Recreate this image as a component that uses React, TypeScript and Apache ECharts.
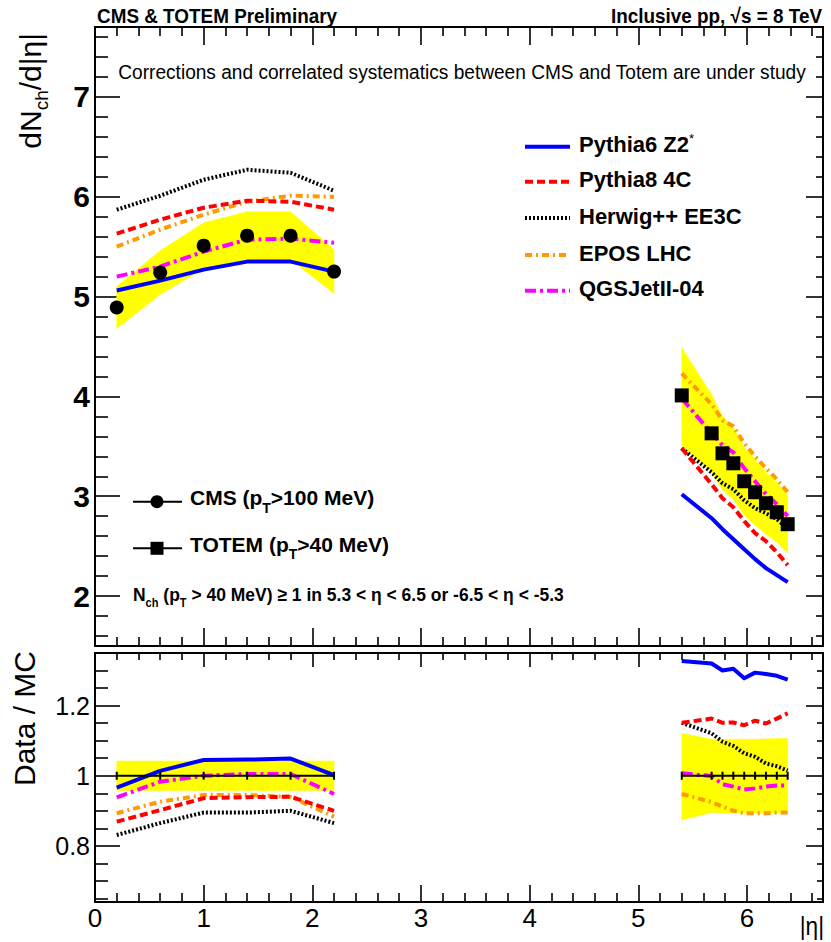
import React, { useEffect, useRef } from "react";
import * as echarts from "echarts";

// ---------------- data ----------------
const cmsEta = [0.2, 0.6, 1.0, 1.4, 1.8, 2.2];
const cmsVal = [4.89, 5.24, 5.51, 5.61, 5.61, 5.25];
const cmsSystLo = [4.68, 5.02, 5.28, 5.37, 5.37, 5.03];
const cmsSystHi = [5.10, 5.46, 5.74, 5.85, 5.85, 5.47];
const cmsRatioLo = [0.958, 0.958, 0.958, 0.958, 0.958, 0.958];
const cmsRatioHi = [1.042, 1.042, 1.042, 1.042, 1.042, 1.042];
const cmsRatioData = [1, 1, 1, 1, 1, 1];

const totemEta = [5.4, 5.675, 5.775, 5.875, 5.975, 6.075, 6.175, 6.275, 6.375];
const totemVal = [4.01, 3.63, 3.43, 3.33, 3.15, 3.04, 2.93, 2.84, 2.72];
const totemSystHi = [4.49, 4.02, 3.80, 3.69, 3.49, 3.37, 3.24, 3.14, 3.01];
const totemSystLo = [3.51, 3.24, 3.06, 2.97, 2.81, 2.71, 2.62, 2.54, 2.43];
const totemRatioHi = [1.121, 1.104, 1.104, 1.104, 1.104, 1.104, 1.105, 1.106, 1.106];
const totemRatioLo = [0.874, 0.895, 0.894, 0.894, 0.894, 0.894, 0.894, 0.894, 0.894];
const totemRatioData = [1, 1, 1, 1, 1, 1, 1, 1, 1];

// models, CMS region (top panel)
const pythia6Cms = [5.06, 5.16, 5.27, 5.35, 5.35, 5.25];
const pythia8Cms = [5.63, 5.77, 5.89, 5.96, 5.95, 5.87];
const herwigCms = [5.87, 6.01, 6.17, 6.27, 6.24, 6.06];
const eposCms = [5.50, 5.67, 5.82, 5.95, 6.01, 6.00];
const qgsjetCms = [5.20, 5.30, 5.45, 5.57, 5.58, 5.54];
// models, TOTEM region (top panel)
const pythia6Totem = [3.02, 2.78, 2.67, 2.57, 2.47, 2.37, 2.28, 2.21, 2.14];
const pythia8Totem = [3.48, 3.12, 2.98, 2.89, 2.75, 2.63, 2.55, 2.44, 2.31];
const herwigTotem = [3.48, 3.24, 3.13, 3.07, 2.96, 2.88, 2.83, 2.77, 2.68];
const eposTotem = [4.23, 3.92, 3.76, 3.70, 3.53, 3.40, 3.28, 3.17, 3.04];
const qgsjetTotem = [3.98, 3.63, 3.51, 3.44, 3.28, 3.15, 3.02, 2.92, 2.80];
// Data / MC, CMS region
const pythia6CmsRatio = [0.966, 1.014, 1.045, 1.046, 1.049, 1.002];
const pythia8CmsRatio = [0.869, 0.902, 0.936, 0.939, 0.940, 0.900];
const herwigCmsRatio = [0.831, 0.865, 0.895, 0.895, 0.900, 0.865];
const eposCmsRatio = [0.893, 0.926, 0.945, 0.945, 0.940, 0.883];
const qgsjetCmsRatio = [0.938, 0.983, 1.000, 1.005, 1.005, 0.948];
// Data / MC, TOTEM region
const pythia6TotemRatio = [1.327, 1.320, 1.300, 1.305, 1.278, 1.294, 1.290, 1.285, 1.274];
const pythia8TotemRatio = [1.151, 1.163, 1.151, 1.152, 1.144, 1.157, 1.149, 1.163, 1.178];
const herwigTotemRatio = [1.151, 1.121, 1.097, 1.085, 1.064, 1.054, 1.035, 1.027, 1.015];
const eposTotemRatio = [0.948, 0.925, 0.912, 0.900, 0.893, 0.893, 0.893, 0.895, 0.895];
const qgsjetTotemRatio = [1.007, 0.999, 0.976, 0.969, 0.961, 0.964, 0.969, 0.972, 0.972];

const modelNames = ["Pythia6 Z2*", "Pythia8 4C", "Herwig++ EE3C", "EPOS LHC", "QGSJetII-04"];

// axes / ticks
const X_MIN = 0;
const X_MAX = 6.7;
const TOP_MIN = 1.5;
const TOP_MAX = 7.7;
const RAT_MIN = 0.64;
const RAT_MAX = 1.35;
const xMajorTicks = [0, 1, 2, 3, 4, 5, 6];
const xLabels = [0, 1, 2, 3, 4, 5, 6];
const topMajorTicks = [2, 3, 4, 5, 6, 7];
const topLabels = [2, 3, 4, 5, 6, 7];
const ratioMajorTicks = [0.8, 1.0, 1.2];
const ratioLabels = [0.8, 1.0, 1.2];

function minorTicks(a: number, b: number, step: number, majors: number[]) {
  const out: number[] = [];
  for (let i = 0; a + i * step <= b + 1e-9; i++) {
    const v = Math.round((a + i * step) * 1000) / 1000;
    if (!majors.some((m) => Math.abs(m - v) < 1e-6)) out.push(v);
  }
  return out;
}
const xMinorTicks = minorTicks(0.2, 6.6, 0.2, xMajorTicks);
const topMinorTicks = minorTicks(1.6, 7.6, 0.2, topMajorTicks);
const ratioMinorTicks = minorTicks(0.65, 1.3, 0.05, ratioMajorTicks);

// ---------------- styles ----------------
const YELLOW = "#ffff00";
const SANS = '"Liberation Sans", Arial, Helvetica, sans-serif';
const modelStyles = [
  { color: "#0000ff", dash: "solid" as any },
  { color: "#ff0000", dash: [8, 4] },
  { color: "#000000", dash: [2, 2] },
  { color: "#ff9a00", dash: [7, 4, 2, 4] },
  { color: "#ff00ff", dash: [11, 4, 3, 4] },
];

function mkX(gridIndex: number, position: string, ticks: number[], len: number, labels?: number[]) {
  return {
    type: "value",
    gridIndex,
    position,
    min: X_MIN,
    max: X_MAX,
    axisLine: { show: true, onZero: false, lineStyle: { color: "#000", width: 2 } },
    axisTick: { show: true, inside: true, length: len, customValues: ticks, lineStyle: { color: "#000", width: 1.6 } },
    axisLabel: labels
      ? {
          show: true,
          customValues: labels,
          margin: 3,
          color: "#000",
          fontFamily: SANS,
          fontSize: 26,
          formatter: (v: number) => String(v),
        }
      : { show: false },
    splitLine: { show: false },
  };
}

function mkY(
  gridIndex: number,
  position: string,
  min: number,
  max: number,
  ticks: number[],
  len: number,
  labels?: number[],
  labelStyle?: any
) {
  return {
    type: "value",
    gridIndex,
    position,
    min,
    max,
    axisLine: { show: true, onZero: false, lineStyle: { color: "#000", width: 2 } },
    axisTick: { show: true, inside: true, length: len, customValues: ticks, lineStyle: { color: "#000", width: 1.6 } },
    axisLabel: labels
      ? Object.assign(
          { show: true, customValues: labels, margin: 5, color: "#000", formatter: (v: number) => String(v) },
          labelStyle
        )
      : { show: false },
    splitLine: { show: false },
  };
}

function band(xs: number[], lo: number[], hi: number[], xi: number, yi: number) {
  return {
    type: "custom",
    xAxisIndex: xi,
    yAxisIndex: yi,
    z: 1,
    silent: true,
    clip: true,
    data: xs.map((x, i) => [x, lo[i], hi[i]]),
    encode: { x: 0, y: [1, 2] },
    renderItem: (params: any, api: any) => {
      if (params.dataIndex !== 0) return { type: "group", children: [] };
      const pts: number[][] = [];
      for (let i = 0; i < xs.length; i++) pts.push(api.coord([xs[i], hi[i]]));
      for (let i = xs.length - 1; i >= 0; i--) pts.push(api.coord([xs[i], lo[i]]));
      return { type: "polygon", shape: { points: pts }, style: { fill: YELLOW, stroke: YELLOW, lineWidth: 0.5 } };
    },
  };
}

function modelLine(xs: number[], ys: number[], m: number, xi: number, yi: number) {
  const st = modelStyles[m];
  return {
    type: "line",
    name: modelNames[m],
    xAxisIndex: xi,
    yAxisIndex: yi,
    z: 3 + (4 - m) * 0.01,
    symbol: "none",
    showSymbol: false,
    silent: true,
    data: xs.map((x, i) => [x, ys[i]]),
    lineStyle: { color: st.color, width: 4, type: st.dash, cap: "butt", join: "round" },
  };
}

// narrow-looking text: Liberation Sans compressed horizontally
function narrowText(
  x: number,
  y: number,
  text: string,
  size: number,
  weight: string,
  align: string,
  scale: number,
  extra?: any
) {
  return {
    type: "text",
    x,
    y,
    scaleX: scale,
    z: 10,
    style: Object.assign(
      {
        text,
        fontFamily: SANS,
        fontWeight: weight,
        fontSize: size,
        fill: "#000",
        align,
        verticalAlign: "middle",
      },
      extra || {}
    ),
  };
}

function buildOption() {
  const topModels = [
    [pythia6Cms, pythia6Totem],
    [pythia8Cms, pythia8Totem],
    [herwigCms, herwigTotem],
    [eposCms, eposTotem],
    [qgsjetCms, qgsjetTotem],
  ];
  const ratioModels = [
    [pythia6CmsRatio, pythia6TotemRatio],
    [pythia8CmsRatio, pythia8TotemRatio],
    [herwigCmsRatio, herwigTotemRatio],
    [eposCmsRatio, eposTotemRatio],
    [qgsjetCmsRatio, qgsjetTotemRatio],
  ];

  const series: any[] = [
    band(cmsEta, cmsSystLo, cmsSystHi, 0, 0),
    band(totemEta, totemSystLo, totemSystHi, 0, 0),
    band(cmsEta, cmsRatioLo, cmsRatioHi, 4, 4),
    band(totemEta, totemRatioLo, totemRatioHi, 4, 4),
  ];
  for (let m = 4; m >= 0; m--) {
    series.push(modelLine(cmsEta, topModels[m][0], m, 0, 0));
    series.push(modelLine(totemEta, topModels[m][1], m, 0, 0));
    series.push(modelLine(cmsEta, ratioModels[m][0], m, 4, 4));
    series.push(modelLine(totemEta, ratioModels[m][1], m, 4, 4));
  }
  // data / data ratio line
  [
    [cmsEta, cmsRatioData],
    [totemEta, totemRatioData],
  ].forEach(([xs, ys]) => {
    series.push({
      type: "line",
      xAxisIndex: 4,
      yAxisIndex: 4,
      z: 5,
      silent: true,
      symbol: "rect",
      symbolSize: [2, 8],
      showSymbol: true,
      itemStyle: { color: "#000", opacity: 1 },
      lineStyle: { color: "#000", width: 2 },
      data: xs.map((x: number, i: number) => [x, ys[i]]),
    });
  });
  series.push({
    type: "scatter",
    name: "CMS",
    xAxisIndex: 0,
    yAxisIndex: 0,
    z: 6,
    symbol: "circle",
    symbolSize: 14,
    itemStyle: { color: "#000", opacity: 1 },
    data: cmsEta.map((x, i) => [x, cmsVal[i]]),
  });
  series.push({
    type: "scatter",
    name: "TOTEM",
    xAxisIndex: 0,
    yAxisIndex: 0,
    z: 6,
    symbol: "rect",
    symbolSize: 14,
    itemStyle: { color: "#000", opacity: 1 },
    data: totemEta.map((x, i) => [x, totemVal[i]]),
  });

  const topLabelStyle = { fontFamily: SANS, fontSize: 30, fontWeight: "bold" };
  const ratLabelStyle = { fontFamily: SANS, fontSize: 25 };

  const xAxis = [
    mkX(0, "bottom", xMajorTicks, 18),
    mkX(0, "bottom", xMinorTicks, 9),
    mkX(0, "top", xMajorTicks, 18),
    mkX(0, "top", xMinorTicks, 9),
    mkX(1, "bottom", xMajorTicks, 17, xLabels),
    mkX(1, "bottom", xMinorTicks, 9),
    mkX(1, "top", xMajorTicks, 14),
    mkX(1, "top", xMinorTicks, 7),
  ];
  const yAxis = [
    mkY(0, "left", TOP_MIN, TOP_MAX, topMajorTicks, 25, topLabels, topLabelStyle),
    mkY(0, "left", TOP_MIN, TOP_MAX, topMinorTicks, 13),
    mkY(0, "right", TOP_MIN, TOP_MAX, topMajorTicks, 17),
    mkY(0, "right", TOP_MIN, TOP_MAX, topMinorTicks, 7),
    mkY(1, "left", RAT_MIN, RAT_MAX, ratioMajorTicks, 25, ratioLabels, ratLabelStyle),
    mkY(1, "left", RAT_MIN, RAT_MAX, ratioMinorTicks, 13),
    mkY(1, "right", RAT_MIN, RAT_MAX, ratioMajorTicks, 17),
    mkY(1, "right", RAT_MIN, RAT_MAX, ratioMinorTicks, 6),
  ];

  // legend graphics
  const legendYs = [146.7, 181.7, 218, 255, 290.7];
  const graphic: any[] = [];
  modelNames.forEach((name, m) => {
    const st = modelStyles[m];
    graphic.push({
      type: "line",
      shape: { x1: 525, y1: legendYs[m], x2: 570, y2: legendYs[m] },
      style: { stroke: st.color, lineWidth: 4, lineDash: st.dash === "solid" ? null : st.dash },
      z: 10,
    });
    const txt = m === 0 ? "Pythia6 Z2{sup|*}" : name;
    graphic.push({
      type: "text",
      x: 579,
      y: legendYs[m] - 2,
      z: 10,
      style: {
        text: txt,
        fontFamily: SANS,
        fontWeight: "bold",
        fontSize: 22,
        fill: "#000",
        align: "left",
        verticalAlign: "middle",
        lineHeight: 26,
        rich: { sup: { fontSize: 13, fontWeight: "normal", fontFamily: SANS, verticalAlign: "top", lineHeight: 13, fill: "#000" } },
      },
    });
  });

  // data legend
  const dl = [
    { y: 501.7, text: "CMS (p{s|T}>100 MeV)", sym: "circle" },
    { y: 548.3, text: "TOTEM (p{s|T}>40 MeV)", sym: "rect" },
  ];
  dl.forEach((d) => {
    graphic.push({ type: "line", shape: { x1: 133, y1: d.y, x2: 182, y2: d.y }, style: { stroke: "#000", lineWidth: 2 }, z: 10 });
    if (d.sym === "circle") graphic.push({ type: "circle", shape: { cx: 157, cy: d.y, r: 6.5 }, style: { fill: "#000" }, z: 10 });
    else graphic.push({ type: "rect", shape: { x: 150.5, y: d.y - 6.5, width: 13, height: 13 }, style: { fill: "#000" }, z: 10 });
    graphic.push({
      type: "text",
      x: 190,
      y: d.y - 4,
      z: 10,
      style: {
        text: d.text,
        fontFamily: SANS,
        fontWeight: "bold",
        fontSize: 21,
        fill: "#000",
        align: "left",
        verticalAlign: "middle",
        lineHeight: 34,
        rich: { s: { fontSize: 14, fontFamily: SANS, fontWeight: "bold", verticalAlign: "bottom", lineHeight: 14, fill: "#000" } },
      },
    });
  });

  graphic.push(
    narrowText(133, 594, "N{s|ch} (p{s|T} > 40 MeV) ≥ 1 in 5.3 < η < 6.5 or -6.5 < η < -5.3", 19, "bold", "left", 0.92, {
      lineHeight: 30,
      rich: { s: { fontSize: 12, fontFamily: SANS, fontWeight: "bold", verticalAlign: "bottom", lineHeight: 12, fill: "#000" } },
    }),
    narrowText(97, 16, "CMS & TOTEM Preliminary", 21, "bold", "left", 0.9),
    narrowText(822, 16, "Inclusive pp, √s = 8 TeV", 21, "bold", "right", 0.9),
    narrowText(462, 72, "Corrections and correlated systematics between CMS and Totem are under study", 21, "normal", "center", 0.91),
    narrowText(824, 926, "|η|", 26, "normal", "right", 0.87),
    {
      type: "text",
      x: 30,
      y: 33,
      rotation: Math.PI / 2,
      z: 10,
      style: {
        text: "dN{s|ch}/d|η|",
        fontFamily: SANS,
        fontSize: 30,
        fill: "#000",
        align: "right",
        verticalAlign: "middle",
        lineHeight: 42,
        rich: { s: { fontSize: 19, fontFamily: SANS, verticalAlign: "bottom", lineHeight: 19, fill: "#000" } },
      },
    },
    {
      type: "text",
      x: 24,
      y: 651,
      rotation: Math.PI / 2,
      z: 10,
      style: {
        text: "Data / MC",
        fontFamily: SANS,
        fontSize: 30,
        fill: "#000",
        align: "right",
        verticalAlign: "middle",
      },
    }
  );

  return {
    animation: false,
    backgroundColor: "#ffffff",
    grid: [
      { left: 95, top: 27, width: 728, height: 619, containLabel: false, outerBoundsMode: "none" },
      { left: 95, top: 653, width: 728, height: 249, containLabel: false, outerBoundsMode: "none" },
    ],
    xAxis,
    yAxis,
    series,
    graphic,
  };
}

export default function App() {
  const ref = useRef<HTMLDivElement>(null);
  useEffect(() => {
    if (!ref.current) return;
    const chart = echarts.init(ref.current, null, { renderer: "svg" });
    chart.setOption(buildOption() as any);
    return () => chart.dispose();
  }, []);
  return (
    <div
      ref={ref}
      style={{ position: "fixed", left: 0, top: 0, width: 831, height: 942, background: "#fff" }}
    />
  );
}
